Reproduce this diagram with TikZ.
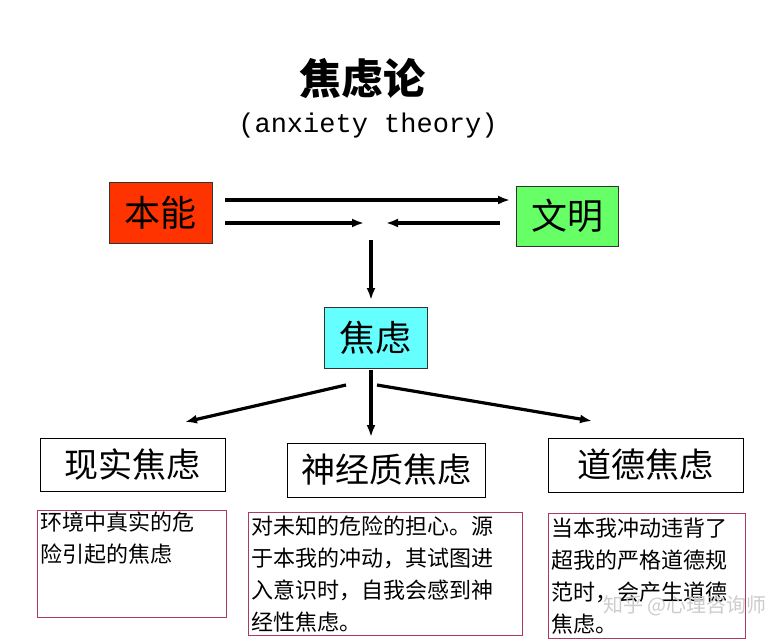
\documentclass[tikz,border=0pt]{standalone}
\usepackage{fontspec}
\usetikzlibrary{arrows.meta}
\newfontfamily\cjk{Noto Sans CJK SC}
\setmonofont{Liberation Mono}
\begin{document}
\begin{tikzpicture}[x=1pt,y=-1pt,
  big/.style={draw=black!80,line width=0.8pt,inner sep=0pt,font=\cjk\fontsize{36}{38}\selectfont},
  head/.style={draw=black,line width=0.8pt,inner sep=0pt,font=\cjk\fontsize{34}{36}\selectfont},
  desc/.style={draw={rgb,255:red,170;green,60;blue,90},line width=0.6pt,inner sep=3pt,anchor=north west,align=left,font=\cjk\fontsize{22}{32}\selectfont},
  arr/.style={-{Latex[length=12pt,width=9pt]},line width=3.2pt}]
\useasboundingbox (0,0) rectangle (782,643);
\node[font=\cjk\bfseries\fontsize{42}{44}\selectfont] (t) at (362,78) {焦虑论};
\node[font=\ttfamily\fontsize{27}{28}\selectfont] (t2) at (368,126) {(anxiety theory)};
\node[big,fill={rgb,255:red,255;green,51;blue,0},minimum width=103pt,minimum height=61pt] (bn) at (160.5,212.5) {本能};
\node[big,fill={rgb,255:red,102;green,255;blue,102},minimum width=102pt,minimum height=60pt] (wm) at (567,216) {文明};
\node[big,fill={rgb,255:red,102;green,255;blue,255},minimum width=103pt,minimum height=61pt] (jl) at (375.5,337.5) {焦虑};
\coordinate (a1) at (225,200); \coordinate (a2) at (510,200);
\coordinate (b1) at (225,223); \coordinate (b2) at (364,223);
\coordinate (c1) at (500,223); \coordinate (c2) at (386,223);
\coordinate (d1) at (371,240); \coordinate (d2) at (371,300);
\draw[arr] (a1) -- (a2);
\draw[arr] (b1) -- (b2);
\draw[arr] (c1) -- (c2);
\draw[arr] (d1) -- (d2);
\node[head,minimum width=185pt,minimum height=53pt] (h1) at (132.5,464.5) {现实焦虑};
\node[head,minimum width=198pt,minimum height=54pt] (h2) at (386,470) {神经质焦虑};
\node[head,minimum width=195pt,minimum height=54pt] (h3) at (645.5,465) {道德焦虑};
\coordinate (e1) at (346,385); \coordinate (e2) at (185,422);
\coordinate (f1) at (377,385); \coordinate (f2) at (592,421);
\coordinate (g1) at (371,370); \coordinate (g2) at (371,437);
\draw[arr] (e1) -- (e2);
\draw[arr] (g1) -- (g2);
\draw[arr] (f1) -- (f2);
\draw[draw={rgb,255:red,170;green,60;blue,90},line width=0.6pt] (37,510) rectangle (226,617);
\node[desc,draw=none,text width=183pt] (p1) at (37,509) {环境中真实的危\\险引起的焦虑};
\node[desc,minimum width=274pt,minimum height=123pt,text width=268pt] (p2) at (248,512) {对未知的危险的担心。源\\于本我的冲动，其试图进\\入意识时，自我会感到神\\经性焦虑。};
\node[desc,minimum width=197pt,minimum height=125pt,text width=191pt] (p3) at (548,513) {当本我冲动违背了\\超我的严格道德规\\范时，会产生道德\\焦虑。};
\node[font=\cjk\fontsize{20}{22}\selectfont,text=black!20,anchor=west] (wmk) at (600,606) {知乎 @心理咨询师};
\end{tikzpicture}
\end{document}
